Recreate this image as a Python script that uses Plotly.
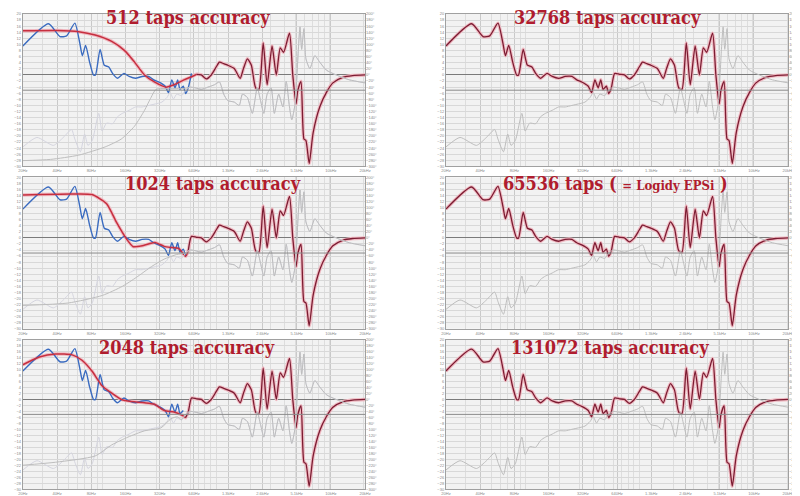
import plotly.graph_objects as go

# ---------------- data ----------------
# measured response (blue / final dark curve), dB
TRUE_F = [20, 33.6, 42.4, 48.5, 57.3, 63.3, 66.7, 71.3, 77.3, 83.7, 87.1, 95.6, 104, 114, 123,
          136, 155, 172, 196, 224, 256, 283, 313, 357, 382, 408, 436, 460, 482, 515,
          540, 570, 609, 673, 743, 821, 908, 1003, 1072, 1169, 1266, 1447, 1631, 1744, 1888,
          2046, 2230, 2384, 2600, 2816, 3112, 3392, 3674, 3928, 4428, 4734, 5058, 5230, 5590, 5936,
          6178, 6602, 7152, 8172, 9336, 10666, 13024, 15902, 20480]
TRUE_DB = [9.5, 16.8, 12.6, 12.8, 17.0, 10.5, 6.3, 9.7, 4.2, 0, 0, 8.4, 3.2, 2.6, 0.5,
           -1.1, 0.5, -0.5, -1.1, -0.5, -0.5, -1.6, -2.3, -3.7, -5.8, -1.6, -4.2, -1.6, -4.7, -3.7,
           -6.1, -4.2, 0.5, 0.2, 0, -1.3, 0, 2.6, 4.2, 3.7, 3.2, 2.1, -1.1, 2.1, 5.3,
           3.2, -4.2, -4.7, 10.5, -3.2, 9.5, 0, 8.9, 7.4, 13.7, 0, -9.5, -5.3, -2.1, -21,
           -21.5, -29, -18.9, -10.5, -5.8, -2.6, -0.8, -0.2, 0]

# phase (grey curve), degrees
PHASE_F = [20, 26.6, 37.1, 45.4, 53.6, 57.3, 64.1, 69.9, 74.7, 81.5, 93.1, 99.5, 109, 123, 136,
           150, 172, 196, 224, 256, 293, 334, 370, 395, 422, 451, 499, 533, 589, 651,
           743, 849, 970, 1072, 1169, 1266, 1447, 1599, 1709, 1888, 2087, 2306, 2465, 2634, 2816,
           3050, 3260, 3555, 3876, 4143, 4428, 4638, 4958, 5300, 5480, 5666, 5936, 6178, 6692, 7394,
           8172, 9336, 11402, 14876, 20480]
PHASE_DEG = [-236, -205, -231, -205, -179, -210, -252, -194, -231, -215, -126, -184, -158, -160, -137,
             -126, -116, -105, -105, -100, -95, -89, -74, -58, -79, -63, -68, -53, -40, -42,
             -47, -40, -32, -23, -63, -84, -89, -100, -63, -74, -126, -42, -84, -126, -63,
             -42, -126, -63, -105, -21, -105, -147, -95, 84, 158, 84, 152, 53, 21, 63,
             42, 16, 0, -16, -26]

# low-frequency part of the filtered response for short filters
RED512_F = [20, 40, 62, 86.5, 121, 158, 192, 235, 287, 362, 428, 522, 617]
RED512_DB = [14.5, 14.6, 14.2, 13.1, 11.0, 7.9, 4.2, 0.0, -2.3, -4.0, -3.2, -1.6, -0.5]
RED1024_F = [20, 54, 81, 109, 133, 163, 187, 230, 290, 350, 410, 470, 540]
RED1024_DB = [14.2, 14.5, 14.3, 11.3, 5.2, -0.3, -2.9, -2.5, -1.5, -2.8, -3.2, -3.5, -6.1]
RED2048_F = [20, 27.9, 38.9, 54.3, 66.3, 81, 98.9, 121, 147, 180, 235, 287, 350, 428, 505]
RED2048_DB = [11.6, 14.2, 15.2, 14.9, 13.1, 9.5, 4.7, 2.1, 0.0, -0.7, -1.1, -1.6, -3.7, -4.2, -5.3]

PH512_F = [20, 35, 62, 106, 147, 192, 235, 268, 297, 400, 540]
PH512_DEG = [-281, -277, -263, -236, -210, -168, -116, -74, -47, -45, -44]
PH1024_F = [20, 50, 100, 150, 200, 270, 350, 450, 540]
PH1024_DEG = [-223, -215, -190, -160, -130, -95, -70, -55, -50]
PH2048_F = [20, 38.9, 86.5, 121, 168, 235, 328, 400, 457]
PH2048_DEG = [-220, -210, -189, -152, -126, -105, -95, -65, -58]

TAPS = ["512", "1024", "2048", "32768", "65536", "131072"]
TITLES = ["512 taps accuracy", "1024 taps accuracy", "2048 taps accuracy",
          "32768 taps accuracy",
          "65536 taps ( <span style='font-size:13px'>= Logidy EPSi</span> )",
          "131072 taps accuracy"]

X_TICKS = [20, 40, 80, 160, 320, 640, 1280, 2560, 5120, 10240, 20480]
X_LABELS = ["20Hz", "40Hz", "80Hz", "160Hz", "320Hz", "640Hz", "1.3kHz", "2.6kHz",
            "5.1kHz", "10kHz", "20kHz"]
REF_LEVEL = -5

# ---------------- layout helpers ----------------
W, H = 800, 496
COLS = [(10, 357), (439, 786)]
ROWS = [(3, 157), (168, 321), (332, 483)]
# panel -> (col, row, title centre x px, title centre y px)
PANEL_POS = [(0, 0, 177, 7), (0, 1, 203, 174), (0, 2, 176, 340),
             (1, 0, 603, 7), (1, 1, 611, 174), (1, 2, 605, 340)]
SMOOTH = {"512": (RED512_F, RED512_DB, PH512_F, PH512_DEG),
          "1024": (RED1024_F, RED1024_DB, PH1024_F, PH1024_DEG),
          "2048": (RED2048_F, RED2048_DB, PH2048_F, PH2048_DEG)}

RED = "#c62f3f"
MAROON = "#7c1c32"
PINK = "#efbac2"
BLUE = "#3a6bc0"
GREY = "#bdbdbd"
GREY_L = "#d4d4de"

fig = go.Figure()
layout = dict(width=W, height=H, margin=dict(l=0, r=0, t=0, b=0),
              paper_bgcolor="white", plot_bgcolor="#f2f2f2", showlegend=False,
              shapes=[], annotations=[])

tickfont = dict(family="Liberation Sans", size=4, color="#8a8a8a")
SPLINE = dict(shape="spline", smoothing=0.6)

for k in range(6):
    n = k + 1
    col, row, tx, ty = PANEL_POS[k]
    xn = "x" if n == 1 else f"x{n}"
    ya_n = 2 * n - 1
    yb_n = 2 * n
    ya = "y" if ya_n == 1 else f"y{ya_n}"
    yb = f"y{yb_n}"
    x0, x1 = COLS[col]
    r0, r1 = ROWS[row]
    layout["xaxis" if n == 1 else f"xaxis{n}"] = dict(
        type="log", range=[1.30103, 4.31133], domain=[x0 / W, x1 / W], anchor=ya,
        tickvals=X_TICKS, ticktext=X_LABELS, tickfont=tickfont, ticks="", ticklabelstandoff=0,
        showgrid=True, gridcolor="#c9c9c9", gridwidth=1,
        minor=dict(showgrid=True, gridcolor="#dddddd", gridwidth=0.5, dtick="D1"),
        showline=True, linecolor="#a0a0a0", mirror=True, zeroline=False)
    layout["yaxis" if ya_n == 1 else f"yaxis{ya_n}"] = dict(
        range=[-30, 20], domain=[1 - r1 / H, 1 - r0 / H], anchor=xn,
        tick0=-30, dtick=2, tickfont=tickfont, ticks="",
        showgrid=True, gridcolor="#d8d8d8", gridwidth=1,
        zeroline=True, zerolinecolor="#7a7a7a", zerolinewidth=1,
        showline=True, linecolor="#a0a0a0", mirror=True)
    layout[f"yaxis{yb_n}"] = dict(
        range=[-300, 200], overlaying=ya, side="right", anchor=xn,
        tick0=-300, dtick=20, ticksuffix="°", tickfont=tickfont, ticks="",
        showgrid=False, zeroline=False)

    taps = TAPS[k]
    if taps in SMOOTH:
        sf, sdb, pf, pdeg = SMOOTH[taps]
        join = sf[-1]
        pjoin = pf[-1]
        red_f = sf + [f for f in TRUE_F if f > join * 1.05]
        red_db = sdb + [d for f, d in zip(TRUE_F, TRUE_DB) if f > join * 1.05]
        ph_f = pf + [f for f in PHASE_F if f > pjoin * 1.05]
        ph_d = pdeg + [d for f, d in zip(PHASE_F, PHASE_DEG) if f > pjoin * 1.05]
        fig.add_trace(go.Scatter(x=PHASE_F, y=PHASE_DEG, xaxis=xn, yaxis=yb, mode="lines",
                                 line=dict(color=GREY_L, width=1, **SPLINE), hoverinfo="skip"))
    else:
        join = 0
        red_f, red_db = TRUE_F, TRUE_DB
        ph_f, ph_d = PHASE_F, PHASE_DEG

    fig.add_trace(go.Scatter(x=ph_f, y=ph_d, xaxis=xn, yaxis=yb, mode="lines",
                             line=dict(color=GREY, width=1, **SPLINE)))
    fig.add_trace(go.Scatter(x=red_f, y=red_db, xaxis=xn, yaxis=ya, mode="lines",
                             line=dict(color=PINK, width=3.5, **SPLINE)))
    if join:
        bf = [f for f in TRUE_F if f <= join * 1.05]
        bd = [d for f, d in zip(TRUE_F, TRUE_DB) if f <= join * 1.05]
        fig.add_trace(go.Scatter(x=bf, y=bd, xaxis=xn, yaxis=ya, mode="lines",
                                 line=dict(color=BLUE, width=1.4, **SPLINE)))
        fig.add_trace(go.Scatter(x=red_f[:len(sf) + 1], y=red_db[:len(sf) + 1], xaxis=xn, yaxis=ya,
                                 mode="lines", line=dict(color=RED, width=1.5, **SPLINE)))
    tf = [f for f in TRUE_F if f > join * 1.05] if join else TRUE_F
    td = [d for f, d in zip(TRUE_F, TRUE_DB) if f > join * 1.05] if join else TRUE_DB
    fig.add_trace(go.Scatter(x=tf, y=td, xaxis=xn, yaxis=ya, mode="lines",
                             line=dict(color=MAROON, width=1.3, **SPLINE)))

    layout["shapes"].append(dict(type="line", xref=f"{xn} domain", yref=ya, x0=0, x1=1,
                                 y0=REF_LEVEL, y1=REF_LEVEL,
                                 line=dict(color="#8c8c8c", width=1)))
    layout["annotations"].append(dict(
        text=TITLES[k], xref="paper", yref="paper", x=tx / W, y=1 - ty / H,
        xanchor="center", yanchor="middle", showarrow=False,
        font=dict(family="DejaVu Serif Condensed", size=18, color="#b01c2e", weight="bold")))

fig.update_layout(**layout)
fig.write_html("out.html")
